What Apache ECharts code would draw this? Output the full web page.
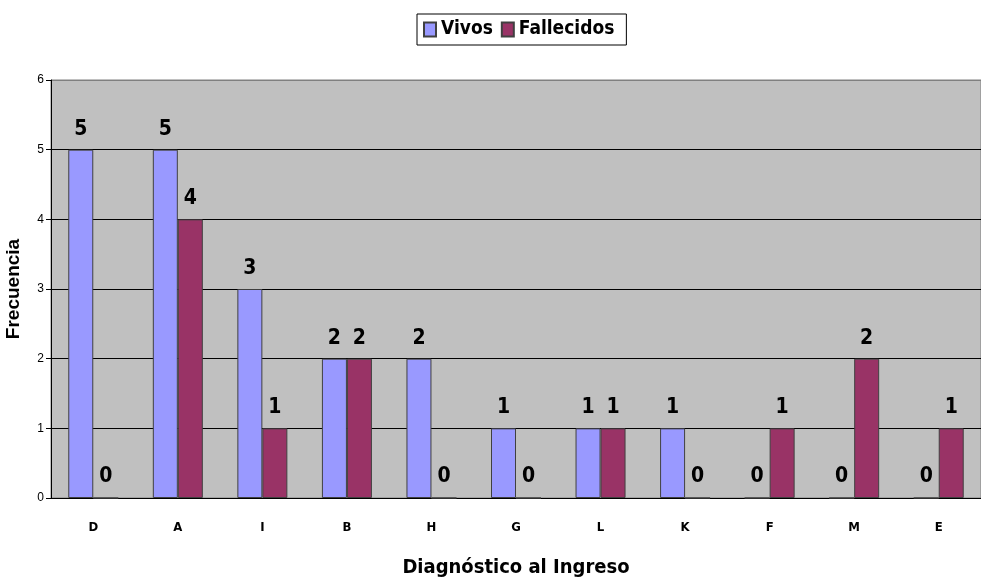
<!DOCTYPE html>
<html>
<head>
<meta charset="utf-8">
<script src="https://cdn.jsdelivr.net/npm/echarts@6/dist/echarts.min.js"></script>
<style>
  html, body { margin: 0; padding: 0; background: #fff; }
  #chart { width: 981px; height: 585px; }
</style>
</head>
<body>
<div id="chart"></div>
<script>
const categories = ['D', 'A', 'I', 'B', 'H', 'G', 'L', 'K', 'F', 'M', 'E']
const vivos = [5, 5, 3, 2, 2, 1, 1, 1, 0, 0, 0]
const fallecidos = [0, 4, 1, 2, 0, 0, 1, 0, 1, 2, 1]

const narrow = "'Liberation Sans Narrow', 'Arial Narrow', 'DejaVu Sans Condensed', sans-serif"

const chart = echarts.init(document.getElementById('chart'))

const barLabel = {
  show: true,
  position: 'top',
  distance: 10,
  color: '#000',
  fontFamily: narrow,
  fontWeight: 'bold',
  fontSize: 21
}

chart.setOption({
  animation: false,
  legend: {
    top: 14,
    left: 417,
    padding: [6, 12, 6, 6],
    borderColor: '#000',
    borderWidth: 1,
    icon: 'rect',
    itemWidth: 12,
    itemHeight: 14,
    itemGap: 8,
    textStyle: {
      fontFamily: narrow,
      fontWeight: 'bold',
      fontSize: 19,
      color: '#000'
    },
    data: ['Vivos', 'Fallecidos']
  },
  grid: {
    left: 51,
    right: 0,
    top: 80,
    bottom: 87,
    outerBoundsMode: 'none',
    containLabel: false,
    show: true,
    backgroundColor: '#C0C0C0',
    borderColor: '#808080',
    borderWidth: 1
  },
  xAxis: {
    type: 'category',
    data: categories,
    name: 'Diagnóstico al Ingreso',
    nameLocation: 'middle',
    nameGap: 60,
    nameTextStyle: {
      fontFamily: narrow,
      fontWeight: 'bold',
      fontSize: 20,
      color: '#000'
    },
    axisLine: { lineStyle: { color: '#000' } },
    axisTick: { length: 6, lineStyle: { color: '#808080' } },
    axisLabel: {
      margin: 23,
      fontFamily: narrow,
      fontWeight: 'bold',
      fontSize: 13,
      color: '#000'
    }
  },
  yAxis: {
    type: 'value',
    min: 0,
    max: 6,
    interval: 1,
    name: 'Frecuencia',
    nameLocation: 'middle',
    nameGap: 28,
    nameTextStyle: {
      fontFamily: "'Liberation Sans', Arial, sans-serif",
      fontWeight: 'bold',
      fontSize: 19,
      color: '#000'
    },
    axisLine: { show: true, lineStyle: { color: '#000' } },
    axisTick: { show: true, length: 5, lineStyle: { color: '#000' } },
    axisLabel: {
      margin: 7,
      fontFamily: "'Liberation Sans', Arial, sans-serif",
      fontSize: 12,
      color: '#000'
    },
    splitLine: {
      lineStyle: { color: ['#000', '#000', '#000', '#000', '#000', '#000', '#808080'] }
    }
  },
  series: [
    {
      name: 'Vivos',
      type: 'bar',
      data: vivos,
      barWidth: 25,
      barGap: '0%',
      itemStyle: { color: '#9999FF', borderColor: '#404040', borderWidth: 1 },
      label: barLabel
    },
    {
      name: 'Fallecidos',
      type: 'bar',
      data: fallecidos,
      barWidth: 25,
      barGap: '0%',
      itemStyle: { color: '#993366', borderColor: '#404040', borderWidth: 1 },
      label: barLabel
    }
  ]
})
</script>
</body>
</html>
